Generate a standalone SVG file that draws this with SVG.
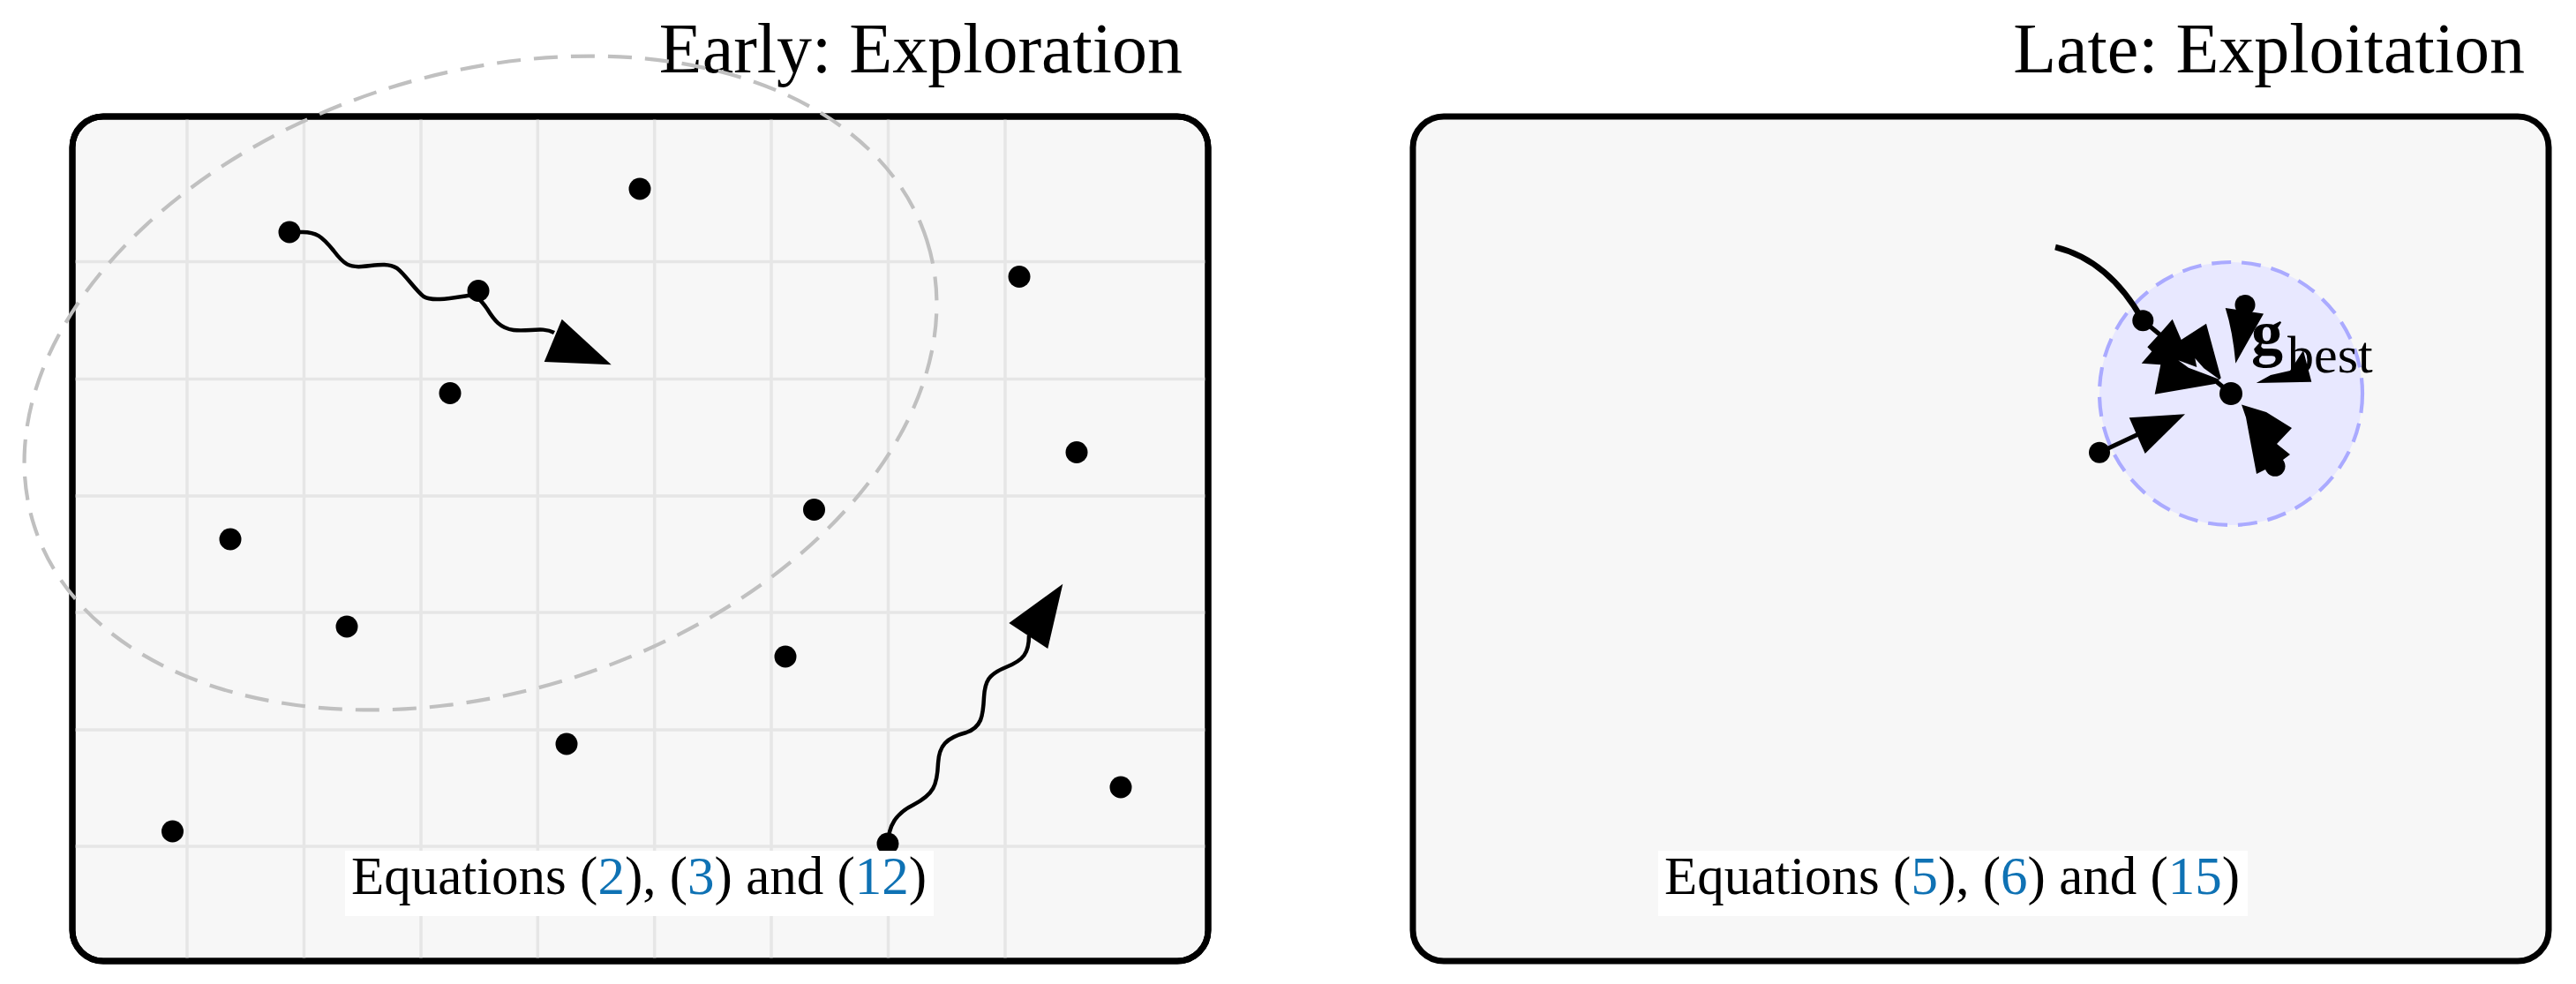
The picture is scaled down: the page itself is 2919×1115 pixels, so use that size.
<svg xmlns="http://www.w3.org/2000/svg" width="2919" height="1115" viewBox="0 0 2919 1115">
<style>
.panel{fill:#f7f7f7;stroke:#000;stroke-width:7}
.grid line{stroke:#e6e6e6;stroke-width:3.5}
.title{font-family:"Liberation Serif",serif;font-size:80px;fill:#000;text-anchor:end}
.eq{font-family:"Liberation Serif",serif;font-size:61px;fill:#000;text-anchor:middle}
.ref{fill:#0f72b4}
.box{fill:#fff}
.dot{fill:#000}
.wave{fill:none;stroke:#000;stroke-width:4.5}
.line{fill:none;stroke:#000;stroke-width:5}
.head{fill:#000}
.lbl{font-family:"Liberation Serif",serif;fill:#000}
</style>
<rect width="2919" height="1115" fill="#fff"/>

<g id="panel-early">
<rect class="panel" x="82" y="132" width="1287" height="957" rx="35"/>
<g class="grid">
<line x1="212" y1="135" x2="212" y2="1086"/>
<line x1="344.5" y1="135" x2="344.5" y2="1086"/>
<line x1="477" y1="135" x2="477" y2="1086"/>
<line x1="609.3" y1="135" x2="609.3" y2="1086"/>
<line x1="741.7" y1="135" x2="741.7" y2="1086"/>
<line x1="874" y1="135" x2="874" y2="1086"/>
<line x1="1006.5" y1="135" x2="1006.5" y2="1086"/>
<line x1="1139" y1="135" x2="1139" y2="1086"/>
<line x1="85" y1="296.6" x2="1366" y2="296.6"/>
<line x1="85" y1="429.4" x2="1366" y2="429.4"/>
<line x1="85" y1="562" x2="1366" y2="562"/>
<line x1="85" y1="694" x2="1366" y2="694"/>
<line x1="85" y1="827" x2="1366" y2="827"/>
<line x1="85" y1="959" x2="1366" y2="959"/>
</g>
<rect x="82" y="132" width="1287" height="957" rx="35" fill="none" stroke="#000" stroke-width="7"/>
<text class="title" x="1340" y="82">Early: Exploration</text>
</g>

<g id="panel-late">
<rect class="panel" x="1601" y="132" width="1287" height="957" rx="35"/>
<text class="title" x="2861" y="82">Late: Exploitation</text>
</g>

<g id="search-region">
<ellipse cx="544.5" cy="434" rx="531" ry="350" transform="rotate(-17.7 544.5 434)" fill="none" stroke="#c0c0c0" stroke-width="4.2" stroke-dasharray="27 15"/>
</g>

<g id="gbest-region">
<circle cx="2528" cy="446" r="149" fill="#e8e8ff" stroke="#aaaaff" stroke-width="4.2" stroke-dasharray="22 12"/>
</g>

<g id="connectors">
<path class="wave" d="M 327 263 L 340 263 C 358 262, 365 268, 378 284 C 390 300, 396 303, 410 302 C 425 301, 438 297, 450 304 C 460 312, 470 328, 480 336 C 490 342, 510 338, 530 335 C 540 334, 545 340, 552 350 C 560 363, 567 372, 582 374 C 600 376, 615 370, 628 377"/>
<polygon class="head" points="636.7,361.7 692.7,413.3 616.7,410"/>
<path class="wave" d="M 1006 957 C 1007 935, 1015 922, 1035 912 C 1058 900, 1062 890, 1063 865 C 1064 845, 1072 836, 1095 830 C 1112 824, 1114 812, 1115 790 C 1116 772, 1120 764, 1140 756 C 1160 748, 1166 740, 1166 720"/>
<polygon class="head" points="1204.3,661.7 1187.3,735 1143.3,706"/>

<path fill="none" stroke="#000" stroke-width="6.5" d="M 2329 280 Q 2390 295, 2428 363"/>
<line class="line" x1="2428" y1="363" x2="2528" y2="446"/>
<polygon class="head" points="2433.3,393.3 2451.7,373.3 2461.7,361.7 2471.7,385 2500,366.7 2516.7,428.3 2510,435 2475,441 2441.7,446.7 2448.3,413.3 2426.7,411.7 2438.3,398.3"/>
<polygon fill="#e8e8ff" points="2468.3,408.3 2489.3,416 2487.3,406 2497.3,417.3 2515,430 2500,424.3 2480,416.7"/>
<path class="head" d="M 2521.7 349 L 2565 355.5 L 2533.3 411.7 Q 2530 375, 2521.7 349 Z"/>
<polygon class="head" points="2556.7,434 2573,425 2595,420 2610,397 2619.3,432.7"/>
<polygon class="head" points="2540,458.5 2568,467 2597,485 2580,503 2595,515 2583,524 2557,537 2550,500 2545,473"/>
<line class="line" x1="2379" y1="512.7" x2="2422" y2="492.5"/>
<polygon class="head" points="2412.7,473.3 2476,469.3 2430.7,514"/>
</g>

<g id="particles-early">
<circle class="dot" cx="328" cy="263" r="12.5"/>
<circle class="dot" cx="542" cy="329.5" r="12.5"/>
<circle class="dot" cx="725" cy="214" r="12.5"/>
<circle class="dot" cx="510" cy="445.5" r="12.5"/>
<circle class="dot" cx="1155" cy="313.5" r="12.5"/>
<circle class="dot" cx="1220" cy="512.5" r="12.5"/>
<circle class="dot" cx="922.5" cy="577.5" r="12.5"/>
<circle class="dot" cx="261" cy="611" r="12.5"/>
<circle class="dot" cx="393" cy="710" r="12.5"/>
<circle class="dot" cx="890" cy="744" r="12.5"/>
<circle class="dot" cx="642" cy="843" r="12.5"/>
<circle class="dot" cx="1270" cy="892" r="12.5"/>
<circle class="dot" cx="195.5" cy="942" r="12.5"/>
<circle class="dot" cx="1006" cy="956" r="12.5"/>
</g>

<g id="particles-late">
<circle class="dot" cx="2428.3" cy="363.3" r="12"/>
<circle class="dot" cx="2544" cy="345.5" r="11.5"/>
<circle class="dot" cx="2379" cy="512.7" r="12"/>
<circle class="dot" cx="2578" cy="528.3" r="11.5"/>
<circle class="dot" cx="2528" cy="446" r="13"/>
</g>

<g id="gbest-label">
<text class="lbl" x="2551" y="402" font-size="72" font-weight="bold">g</text>
<text class="lbl" x="2592" y="422" font-size="60">best</text>
</g>

<g id="label-early">
<rect class="box" x="391" y="964" width="667" height="74"/>
<text class="eq" x="724" y="1013">Equations (<tspan class="ref">2</tspan>), (<tspan class="ref">3</tspan>) and (<tspan class="ref">12</tspan>)</text>
</g>

<g id="label-late">
<rect class="box" x="1879" y="964" width="668" height="74"/>
<text class="eq" x="2212" y="1013">Equations (<tspan class="ref">5</tspan>), (<tspan class="ref">6</tspan>) and (<tspan class="ref">15</tspan>)</text>
</g>
</svg>
